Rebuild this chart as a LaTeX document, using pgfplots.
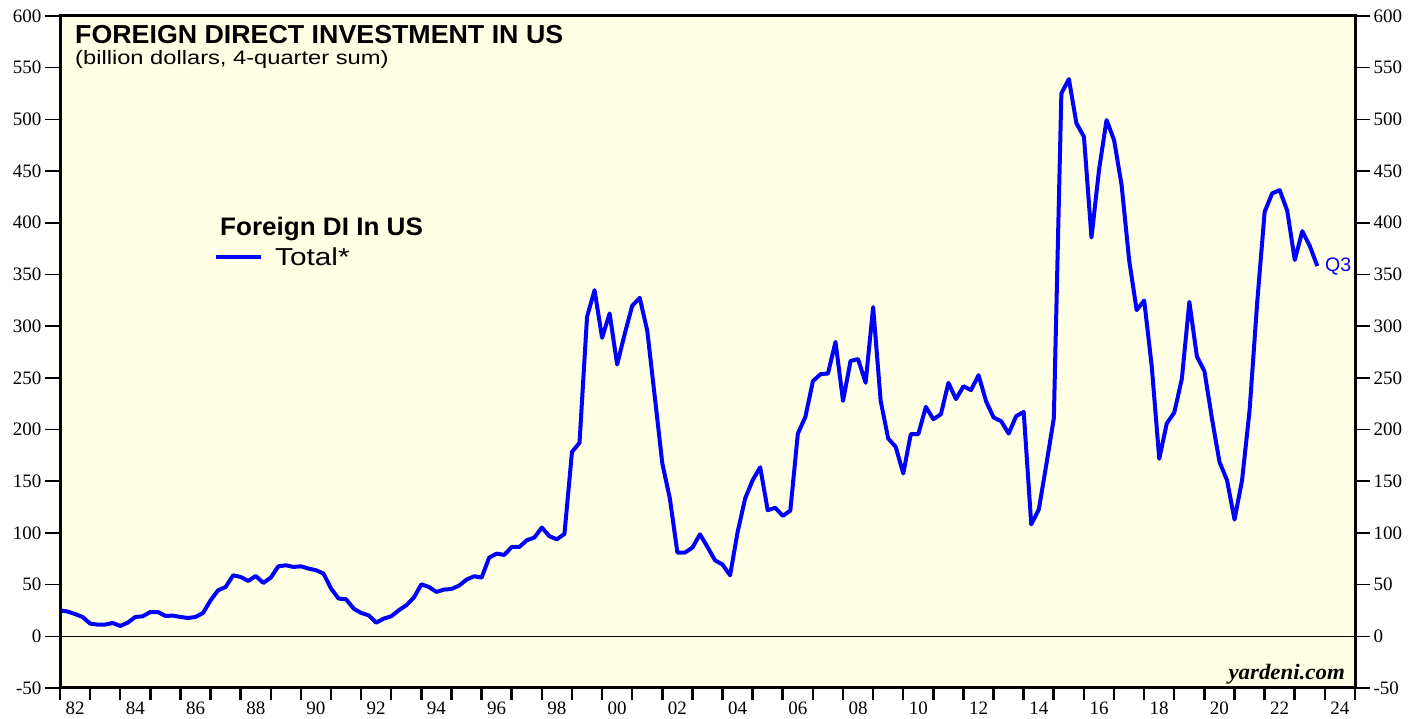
\documentclass[border=0pt]{standalone}
\usepackage{pgfplots}
\pgfplotsset{compat=1.18}
\usepackage{fontspec}
\setmainfont{Liberation Serif}
\newfontfamily\arial{Liberation Sans}
\newfontfamily\arialb{Liberation Sans}[FakeStretch=1.03]
\newfontfamily\arialw{Liberation Sans}[FakeStretch=1.215]
\newfontfamily\timesw{Liberation Serif}[FakeStretch=1.04]
\definecolor{bg}{RGB}{255,255,230}
\definecolor{lineblue}{RGB}{0,0,255}
\begin{document}
\begin{tikzpicture}
\path[use as bounding box] (0pt,0pt) rectangle (1426pt,719pt);
\begin{axis}[name=main, at={(60pt,31pt)}, anchor=south west, scale only axis,
  width=1295pt, height=672pt,
  xmin=1982, xmax=2025, ymin=-50, ymax=600,
  clip mode=individual,
  axis background/.style={fill=bg},
  axis line style={line width=2.5pt},
  ytick=\empty,
  xtick={1982,...,2025}, xticklabels={}, xtick pos=bottom,
  tick align=outside, major tick length=12pt,
  tick style={line width=2.5pt, black},
  extra x ticks={1982.5,1984.5,...,2024.5},
  extra x tick labels={82,84,86,88,90,92,94,96,98,00,02,04,06,08,10,12,14,16,18,20,22,24},
  extra x tick style={major tick length=0pt, tick style={draw=none}, xticklabel style={yshift=-10pt}},
  xticklabel style={font=\fontsize{19}{21}\selectfont},
  legend style={at={(0.1189,0.641)}, anchor=west, draw=none, fill=none,
    font=\arialw\fontsize{24.5}{26}\selectfont, inner sep=0pt},
  legend cell align=left,
  legend image code/.code={\path[draw=none] (0pt,0pt) -- (59pt,0pt); \draw[#1, line width=4pt] (2pt,0pt) -- (47pt,0pt);},
]
\addplot[black, line width=1.2pt, forget plot] coordinates {(1982,0) (2025,0)};
\addplot[lineblue, line width=4pt, line join=round] coordinates {
(1982.00,25) (1982.25,24) (1982.50,21.5) (1982.75,18.7)
(1983.00,12.3) (1983.25,11.3) (1983.50,11.3) (1983.75,12.9)
(1984.00,10) (1984.25,13.2) (1984.50,18.7) (1984.75,19.4)
(1985.00,23.5) (1985.25,23.5) (1985.50,19.7) (1985.75,20)
(1986.00,18.7) (1986.25,17.7) (1986.50,18.7) (1986.75,22.6)
(1987.00,34.8) (1987.25,44.5) (1987.50,47.7) (1987.75,59)
(1988.00,57.4) (1988.25,53.5) (1988.50,58.4) (1988.75,51.6)
(1989.00,56.8) (1989.25,67.7) (1989.50,68.7) (1989.75,67.1)
(1990.00,67.7) (1990.25,65.5) (1990.50,63.9) (1990.75,60.7)
(1991.00,46.2) (1991.25,36.5) (1991.50,35.8) (1991.75,26.8)
(1992.00,22.6) (1992.25,20.3) (1992.50,13.2) (1992.75,17.1)
(1993.00,19.4) (1993.25,25.2) (1993.50,30) (1993.75,37.5)
(1994.00,50.3) (1994.25,47.7) (1994.50,42.9) (1994.75,45.2)
(1995.00,45.8) (1995.25,49) (1995.50,54.9) (1995.75,58.1)
(1996.00,56.8) (1996.25,76.1) (1996.50,80) (1996.75,78.7)
(1997.00,86.4) (1997.25,86.4) (1997.50,92.9) (1997.75,95.5)
(1998.00,105.2) (1998.25,96.8) (1998.50,93.8) (1998.75,99)
(1999.00,178.4) (1999.25,187.1) (1999.50,309) (1999.75,334.8)
(2000.00,288.7) (2000.25,312.3) (2000.50,262.9) (2000.75,292.3)
(2001.00,319.7) (2001.25,327.4) (2001.50,295.5) (2001.75,231.6)
(2002.00,167.1) (2002.25,133.3) (2002.50,81) (2002.75,81)
(2003.00,85.8) (2003.25,98.7) (2003.50,86.4) (2003.75,73.5)
(2004.00,69.4) (2004.25,59) (2004.50,100.9) (2004.75,133.3)
(2005.00,151) (2005.25,163.5) (2005.50,121.9) (2005.75,124.3)
(2006.00,116.5) (2006.25,121.5) (2006.50,196.1) (2006.75,212.2)
(2007.00,246.8) (2007.25,253.5) (2007.50,254.2) (2007.75,284.8)
(2008.00,227.7) (2008.25,266.4) (2008.50,268.1) (2008.75,245.2)
(2009.00,318.4) (2009.25,227.7) (2009.50,191.3) (2009.75,183.2)
(2010.00,157.5) (2010.25,195.5) (2010.50,195.5) (2010.75,221.9)
(2011.00,210) (2011.25,214.8) (2011.50,245.2) (2011.75,229.4)
(2012.00,241.9) (2012.25,238.1) (2012.50,252.6) (2012.75,227.4)
(2013.00,211.6) (2013.25,208.1) (2013.50,196.1) (2013.75,213)
(2014.00,217) (2014.25,108.2) (2014.50,122.6) (2014.75,166)
(2015.00,211) (2015.25,525.2) (2015.50,539) (2015.75,496.2)
(2016.00,483.2) (2016.25,385.8) (2016.50,451) (2016.75,499.4)
(2017.00,480) (2017.25,436.5) (2017.50,363.9) (2017.75,315.5)
(2018.00,324.8) (2018.25,261.5) (2018.50,171.7) (2018.75,205.9)
(2019.00,216.5) (2019.25,249) (2019.50,323.5) (2019.75,270.7)
(2020.00,256.5) (2020.25,210.7) (2020.50,168.7) (2020.75,151)
(2021.00,112.9) (2021.25,151) (2021.50,218.7) (2021.75,322)
(2022.00,410.6) (2022.25,428.4) (2022.50,431.6) (2022.75,411.6)
(2023.00,363.9) (2023.25,391.9) (2023.50,377.4) (2023.75,358.1)
};
\addlegendentry{Total*}
\draw[line width=3pt] (rel axis cs:0,0) rectangle (rel axis cs:1,1);
\end{axis}
% left y ticks
\begin{axis}[at={(60pt,31pt)}, anchor=south west, scale only axis,
  width=1295pt, height=672pt,
  xmin=1982, xmax=2025, ymin=-50, ymax=600,
  axis x line=none, axis y line*=left, axis line style={draw=none},
  ytick={-50,0,...,600}, tick align=outside, major tick length=15pt,
  tick style={line width=1.5pt, black},
  yticklabel style={font=\fontsize{19}{21}\selectfont},
  /pgf/number format/assume math mode=true,
]
\end{axis}
% right y ticks
\begin{axis}[at={(60pt,31pt)}, anchor=south west, scale only axis,
  width=1295pt, height=672pt,
  xmin=1982, xmax=2025, ymin=-50, ymax=600,
  axis x line=none, axis y line*=right, axis line style={draw=none},
  ytick={-50,0,...,600}, tick align=outside, major tick length=15pt,
  tick style={line width=1.5pt, black},
  yticklabel style={font=\fontsize{19}{21}\selectfont},
  /pgf/number format/assume math mode=true,
]
\end{axis}
\node[anchor=base west, inner sep=0pt, font=\arialb\bfseries\fontsize{26}{28}\selectfont] at (75pt,675pt) {FOREIGN DIRECT INVESTMENT IN US};
\node[anchor=base west, inner sep=0pt, font=\arialw\fontsize{19.5}{22}\selectfont] at (75pt,654pt) {(billion dollars, 4-quarter sum)};
\node[anchor=base west, inner sep=0pt, font=\arialb\bfseries\fontsize{25.3}{27}\selectfont] at (220pt,483pt) {Foreign DI In US};
\node[anchor=base west, inner sep=0pt, text=lineblue, font=\arial\fontsize{19.5}{21}\selectfont] at (1325pt,447pt) {Q3};
\node[anchor=base east, inner sep=0pt, font=\timesw\bfseries\itshape\fontsize{22}{24}\selectfont] at (1345pt,39pt) {yardeni.com};
\end{tikzpicture}
\end{document}
